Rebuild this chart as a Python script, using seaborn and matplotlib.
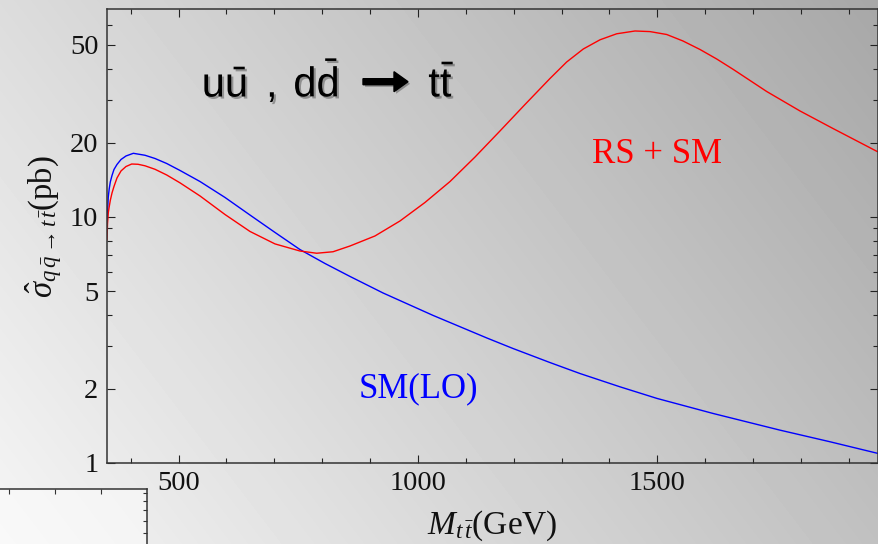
import matplotlib
matplotlib.use("Agg")
import numpy as np
import pandas as pd
import matplotlib.pyplot as plt
import seaborn as sns
from matplotlib import patheffects as pe
from matplotlib.patches import FancyArrow
from matplotlib.ticker import FixedLocator, FixedFormatter, NullFormatter, NullLocator

# ---- partonic cross sections (pb) versus invariant mass (GeV) ----
sm_mass = [350.6, 351.7, 353.3, 355.2, 357.5, 361.1, 365.2, 371.5, 379.9, 390.3,
           405.6, 430.0, 450.9, 475.3, 503.1, 544.9, 597.1, 649.3, 701.5, 753.7,
           805.9, 858.2, 927.1, 1031.6, 1144.3, 1198.6, 1275.9, 1338.6, 1422.1,
           1499.4, 1616.4, 1756.3, 1860.7, 1960.0]
sm_sigma = [8.77, 10.47, 12.05, 12.99, 13.87, 14.74, 15.59, 16.34, 17.12, 17.69,
            18.14, 17.81, 17.28, 16.49, 15.45, 13.93, 12.00, 10.18, 8.65, 7.37,
            6.47, 5.73, 4.91, 3.98, 3.22, 2.92, 2.56, 2.31, 2.04,
            1.83, 1.59, 1.36, 1.22, 1.095]

rs_mass = [350.6, 351.7, 353.3, 355.2, 357.5, 361.1, 365.2, 371.5, 379.9, 390.3,
           402.2, 415.4, 430.0, 450.9, 475.3, 503.1, 544.9, 597.1, 649.3, 701.5,
           753.7, 788.6, 822.7, 858.2, 910.4, 962.6, 1014.8, 1067.1, 1119.3, 1171.5,
           1223.7, 1275.9, 1310.8, 1345.5, 1380.4, 1415.2, 1453.5, 1484.8, 1519.7,
           1553.7, 1589.2, 1624.1, 1658.8, 1728.5, 1798.1, 1867.0, 1960.0]
rs_sigma = [8.06, 9.36, 10.38, 10.98, 11.67, 12.52, 13.30, 14.40, 15.38, 16.03,
            16.41, 16.37, 16.14, 15.62, 14.81, 13.76, 12.17, 10.23, 8.73, 7.77,
            7.27, 7.12, 7.22, 7.62, 8.37, 9.63, 11.45, 13.93, 17.52, 22.36,
            28.64, 36.53, 42.64, 48.15, 52.48, 55.51, 56.98, 56.66, 55.14,
            51.89, 47.93, 43.85, 39.76, 32.35, 26.96, 22.88, 18.42]

x_major = [500, 1000, 1500]
x_minor = [400, 600, 700, 800, 900, 1100, 1200, 1300, 1400, 1600, 1700, 1800, 1900]
y_major = [1, 2, 5, 10, 20, 50]
y_minor = [3, 4, 6, 7, 8, 9, 30, 40, 60]
x_range = (350, 1960)
y_range = (1, 70)

sns.set_theme(style="ticks")
plt.rcParams.update({
    "font.family": ["Liberation Serif", "DejaVu Serif"],
    "mathtext.fontset": "custom",
    "mathtext.rm": "Liberation Serif",
    "mathtext.it": "Liberation Serif:italic",
    "mathtext.bf": "Liberation Serif:bold",
    "mathtext.sf": "Liberation Sans",
})

W, H = 879, 544
fig = plt.figure(figsize=(W / 100, H / 100), dpi=100)

# slide-style grey gradient behind everything (pixel coordinates)
bg = fig.add_axes([0, 0, 1, 1], zorder=-2)
xx, yy = np.meshgrid(np.arange(W) + 0.5, np.arange(H) + 0.5)
shade = 245 - 0.060 * xx - 0.046 * (H - yy)
bg.imshow(shade, cmap="gray", vmin=0, vmax=255, extent=[0, W, H, 0],
          aspect="auto", interpolation="bilinear")
bg.set_xlim(0, W)
bg.set_ylim(H, 0)
bg.axis("off")

# corner of a neighbouring panel peeking in at the lower left
corner = fig.add_axes([0, 0, 147 / W, 55.3 / H], zorder=-1)
corner.set_facecolor((1, 1, 1, 0.45))
corner.set_xlim(0, 3.2)
corner.set_yscale("log")
corner.set_ylim(4.28, 9.63)
for s in ("left", "bottom"):
    corner.spines[s].set_visible(False)
for s in ("top", "right"):
    corner.spines[s].set_linewidth(1.1)
    corner.spines[s].set_color("#333333")
corner.xaxis.set_ticks_position("top")
corner.yaxis.set_ticks_position("right")
corner.xaxis.set_major_locator(FixedLocator([0.2, 1.2, 2.2]))
corner.xaxis.set_major_formatter(NullFormatter())
corner.yaxis.set_major_locator(FixedLocator([5, 6, 7, 8, 9]))
corner.yaxis.set_minor_locator(NullLocator())
corner.yaxis.set_major_formatter(NullFormatter())
corner.yaxis.set_minor_formatter(NullFormatter())
corner.tick_params(direction="in", length=2.6, width=0.8, color="#333333")
corner.tick_params(axis="x", length=3.4)

# main panel
ax = fig.add_axes([106.7 / W, (H - 463) / H, (877.5 - 106.7) / W, (463 - 9) / H])
ax.set_facecolor("none")

sm = pd.DataFrame({"mass": sm_mass, "sigma": sm_sigma})
rs = pd.DataFrame({"mass": rs_mass, "sigma": rs_sigma})
sns.lineplot(data=sm, x="mass", y="sigma", color="#0000ff", lw=1.0,
             estimator=None, sort=False, ax=ax)
sns.lineplot(data=rs, x="mass", y="sigma", color="#ff0000", lw=1.0,
             estimator=None, sort=False, ax=ax)

ax.set_yscale("log")
ax.set_xlim(*x_range)
ax.set_ylim(*y_range)
ax.xaxis.set_major_locator(FixedLocator(x_major))
ax.xaxis.set_minor_locator(FixedLocator(x_minor))
ax.xaxis.set_major_formatter(FixedFormatter([str(v) for v in x_major]))
ax.yaxis.set_major_locator(FixedLocator(y_major))
ax.yaxis.set_minor_locator(FixedLocator(y_minor))
ax.yaxis.set_major_formatter(FixedFormatter([str(v) for v in y_major]))
ax.yaxis.set_minor_formatter(NullFormatter())

ax.tick_params(which="both", direction="in", top=True, right=True,
               color="#222222", width=0.8, labelsize=20.5, labelcolor="#111111")
ax.tick_params(which="major", length=6, pad=6)
ax.tick_params(which="minor", length=3.3)
for s in ax.spines.values():
    s.set_linewidth(1.1)
    s.set_color("#333333")

ax.set_xlabel(r"$M_{t\,\bar{t}}$(GeV)", fontsize=24, color="#111111")
ax.set_ylabel(r"$\hat{\sigma}_{q\,\bar{q}\to t\,\bar{t}}$(pb)", fontsize=23.5,
              color="#111111")
ax.xaxis.set_label_coords(0.5, -0.1)
ax.yaxis.set_label_coords(-0.056, 0.52)

ax.text(1499, 16.6, "RS + SM", color="#ff0000", fontsize=25,
        ha="center", va="baseline")
ax.text(1000, 1.85, "SM(LO)", color="#0000ff", fontsize=25,
        ha="center", va="baseline")

# process label with a soft drop shadow
shadow = [pe.SimplePatchShadow(offset=(1.5, -1.5), alpha=0.3), pe.Normal()]
proc_kw = dict(fontsize=30, color="black", va="baseline", ha="left",
               path_effects=shadow)
bg.text(201.7, 96.7, r"$\mathsf{u\bar{u}}$", **proc_kw)
bg.text(266, 96.7, ",", family="Liberation Sans", **proc_kw)
bg.text(293.3, 96.7, r"$\mathsf{d\bar{d}}$", **proc_kw)
bg.text(428.3, 96.7, r"$\mathsf{t\bar{t}}$", **proc_kw)
arrow = FancyArrow(363, 81.7, 45, 0, width=6, head_width=20, head_length=14,
                   length_includes_head=True, color="black",
                   path_effects=[pe.SimplePatchShadow(offset=(1.5, -1.5), alpha=0.3),
                                 pe.Normal()])
bg.add_patch(arrow)

fig.savefig("out.png", dpi=100)
